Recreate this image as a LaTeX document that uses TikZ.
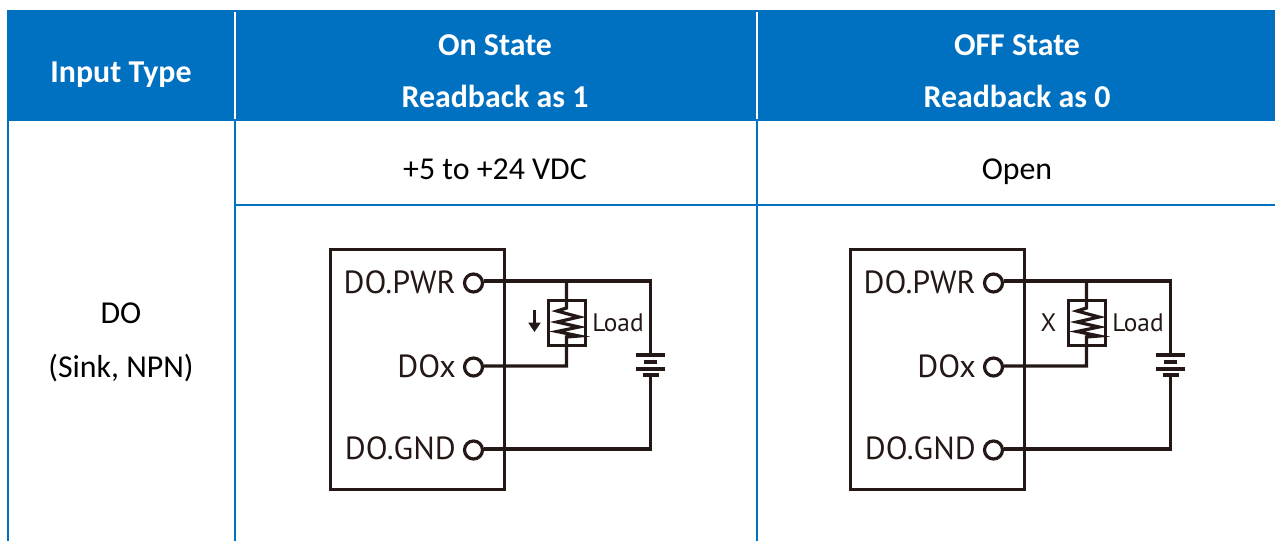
\documentclass[tikz,border=0pt]{standalone}
\usepackage{fontspec}
\setmainfont{Carlito}
\newfontfamily\circfont{PT Sans}
\usetikzlibrary{arrows.meta}
\definecolor{hdrblue}{HTML}{0070C0}
\definecolor{inkc}{HTML}{231815}
\tikzset{
  x=0.75pt,y=-0.75pt,
  rule/.style={draw=hdrblue,line width=1.5pt},
  sep/.style={draw=white,line width=1.5pt},
  hdr/.style={text=white,font=\fontsize{23.9}{28}\selectfont\bfseries,inner sep=0pt,anchor=base},
  cell/.style={text=black,font=\fontsize{23.9}{28}\selectfont,inner sep=0pt,anchor=base},
  wire/.style={draw=inkc,line width=2.4pt},
  term/.style={circle,draw=inkc,line width=2.4pt,minimum size=13.5pt,inner sep=0pt,fill=white},
  lab/.style={text=inkc,font=\circfont\fontsize{24}{28}\selectfont,inner sep=0pt,anchor=base east},
  loadlab/.style={text=inkc,font=\circfont\fontsize{19}{22}\selectfont,inner sep=0pt,anchor=base west},
}
\newcommand{\circuitblock}[2]{%
  \begin{scope}[xshift=#1*0.75pt]
    \node[draw=inkc,line width=2.4pt,minimum width=130.5pt,minimum height=180pt,inner sep=0pt,anchor=north west] (#2box) at (329,248) {};
    \coordinate (#2tr) at (650.5,281);
    \coordinate (#2tm) at (566.5,281);
    \coordinate (#2bm) at (566.5,366);
    \coordinate (#2br) at (650.5,449);
    \coordinate (#2bt1) at (650.5,355);
    \coordinate (#2bt2) at (650.5,375);
    \coordinate (#2zt) at (566.5,308);
    \coordinate (#2zb) at (566.5,337);
    \node[term] (#2p) at (473.5,283) {};
    \node[term] (#2x) at (473.5,367) {};
    \node[term] (#2g) at (473.5,450) {};
    \node[lab] (#2lp) at (456,293.5) {DO.PWR};
    \node[lab] (#2lx) at (456,378) {DOx};
    \node[lab] (#2lg) at (456,460) {DO.GND};
    \node[loadlab] (#2ll) at (592,331.5) {Load};
    \node[draw=inkc,line width=2.4pt,minimum width=28pt,minimum height=33.5pt,inner sep=0pt] (#2lb) at (567,323) {};
    \draw[wire] (#2p.east |- #2tr) -- (#2tr) -- (#2bt1);
    \draw[wire,line join=miter] (#2tm) -- (#2zt) -- (557,311) -- (579,317) -- (557,322) -- (579,327) -- (557,331.5) -- (579,336) -- (#2zb) -- (#2bm) -- (#2x.east |- #2bm);
    \draw[wire] (#2bt2) -- (#2br) -- (#2g.east |- #2br);
    \draw[wire] (636,355) -- (664.5,355);
    \draw[wire] (643.5,362) -- (656.5,362);
    \draw[wire] (636,369) -- (664.5,369);
    \draw[wire] (642.5,375) -- (658.5,375);
  \end{scope}}
\begin{document}
\begin{tikzpicture}
\useasboundingbox (0,0) rectangle (1275,541);
\fill[hdrblue] (7,10) rectangle (1275,121);
\draw[sep] (234.5,12) -- (234.5,119);
\draw[sep] (756.5,12) -- (756.5,119);
\draw[rule] (7.5,121) -- (7.5,541);
\draw[rule] (234.5,121) -- (234.5,541);
\draw[rule] (756.5,121) -- (756.5,541);
\draw[rule] (235,205) -- (1275,205);
\node[hdr] (h1) at (121,83) {Input Type};
\node[hdr] (h2a) at (495,56) {On State};
\node[hdr] (h2b) at (495,108) {Readback as 1};
\node[hdr] (h3a) at (1017,56) {OFF State};
\node[hdr] (h3b) at (1017,108) {Readback as 0};
\node[cell] (c1) at (495,180) {+5 to +24 VDC};
\node[cell] (c2) at (1017,180) {Open};
\node[cell] (c3) at (121,324) {DO};
\node[cell] (c4) at (121,378) {(Sink, NPN)};
\circuitblock{0}{a}
\circuitblock{520}{b}
\coordinate (ar1) at (534.5,310);
\coordinate (ar2) at (534.5,332);
\draw[draw=inkc,fill=inkc,line width=1.6pt,-{Triangle[length=7pt,width=9pt]}] (ar1) -- (ar2);
\node[text=inkc,font=\circfont\fontsize{19}{22}\selectfont,inner sep=0pt] (xm) at (1048.5,323) {X};
\end{tikzpicture}
\end{document}
